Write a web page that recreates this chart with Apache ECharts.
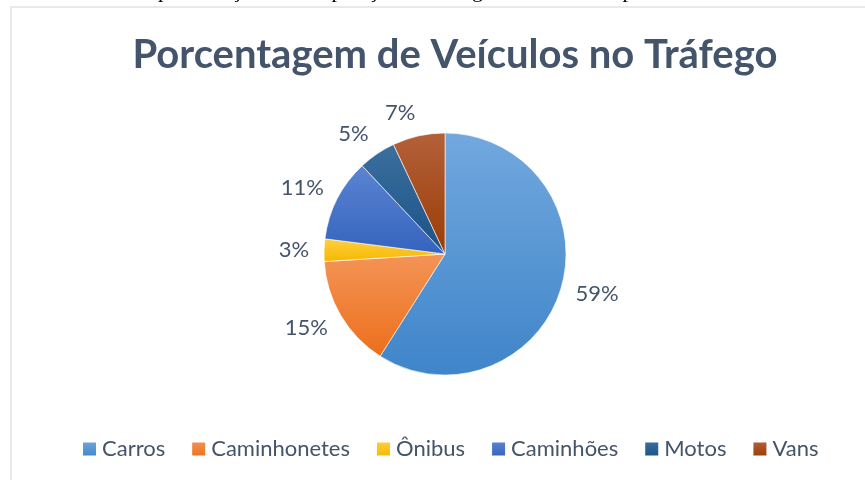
<!DOCTYPE html>
<html>
<head>
<meta charset="utf-8">
<script src="https://cdn.jsdelivr.net/npm/echarts@6/dist/echarts.min.js"></script>
<style>
  html, body { margin: 0; padding: 0; background: #ffffff; }
  #chart { width: 865px; height: 480px; }
</style>
</head>
<body>
<div id="chart"></div>
<script>
// dados do gráfico
const categorias = ['Carros', 'Caminhonetes', 'Ônibus', 'Caminhões', 'Motos', 'Vans'];
const valores = [59, 15, 3, 11, 5, 7];
// cores de cada fatia: [claro (topo), escuro (base)]
const cores = [
  ['#72a8de', '#3f85c9'],
  ['#f49456', '#ec6f1c'],
  ['#ffcf40', '#f5b800'],
  ['#5b84d2', '#3563bd'],
  ['#3b6f9e', '#1b5288'],
  ['#b4603a', '#9a3d06']
];

const textColor = '#44546a';
const centro = [445, 254];
const raio = 121;

// direção do meio de cada fatia (sentido horário a partir do topo)
const total = valores.reduce((a, b) => a + b, 0);
let acumulado = 0;
const direcoes = valores.map(v => {
  const ang = (acumulado + v / 2) / total * 2 * Math.PI;
  acumulado += v;
  return [Math.sin(ang), -Math.cos(ang)];
});

// posição dos rótulos no estilo "extremidade externa" do Excel
const posicionaRotulo = (params) => {
  const [dx, dy] = direcoes[params.dataIndex];
  const w = params.labelRect.width;
  const h = 16;
  const dist = raio + 15;
  const m = Math.max(Math.abs(dx), Math.abs(dy));
  return {
    x: centro[0] + dx * dist + Math.sign(dx) * w / 2,
    y: centro[1] + dy * dist + (dy / m) * h / 2,
    align: 'center',
    verticalAlign: 'middle'
  };
};

const myChart = echarts.init(document.getElementById('chart'));

const option = {
  backgroundColor: '#ffffff',
  animation: false,
  title: {
    text: 'Porcentagem de Veículos no Tráfego',
    left: 450,
    textAlign: 'center',
    top: 30,
    textStyle: {
      color: textColor,
      fontFamily: 'Lato',
      fontWeight: 'bold',
      fontSize: 40
    }
  },
  legend: {
    data: categorias,
    top: 433,
    left: 76,
    itemWidth: 15,
    itemHeight: 15,
    itemGap: 25,
    icon: 'rect',
    textStyle: {
      color: textColor,
      fontFamily: 'Lato',
      fontSize: 22,
      padding: [0, 0, 0, 0]
    }
  },
  graphic: [
    {
      type: 'rect',
      shape: { x: 11, y: 7, width: 900, height: 500 },
      style: { fill: 'none', stroke: '#dde3ec', lineWidth: 1.5 },
      silent: true
    },
    {
      type: 'text',
      left: 28,
      top: -20,
      style: {
        text: 'Gráfico 1 – Representação da composição do tráfego no horário de pico',
        font: '22px "Liberation Serif"',
        fill: '#000000'
      },
      silent: true
    }
  ],
  series: [
    {
      type: 'pie',
      center: centro,
      radius: raio,
      startAngle: 90,
      clockwise: true,
      avoidLabelOverlap: false,
      data: categorias.map((nome, i) => ({
        name: nome,
        value: valores[i],
        itemStyle: {
          color: new echarts.graphic.LinearGradient(0, 0, 0, 1, [
            { offset: 0, color: cores[i][0] },
            { offset: 1, color: cores[i][1] }
          ])
        }
      })),
      itemStyle: {
        borderColor: '#ffffff',
        borderWidth: 0.6
      },
      label: {
        show: true,
        position: 'outside',
        formatter: '{c}%',
        color: textColor,
        fontFamily: 'Lato',
        fontSize: 22
      },
      labelLine: {
        show: false
      },
      labelLayout: posicionaRotulo
    }
  ]
};

myChart.setOption(option);
</script>
</body>
</html>
